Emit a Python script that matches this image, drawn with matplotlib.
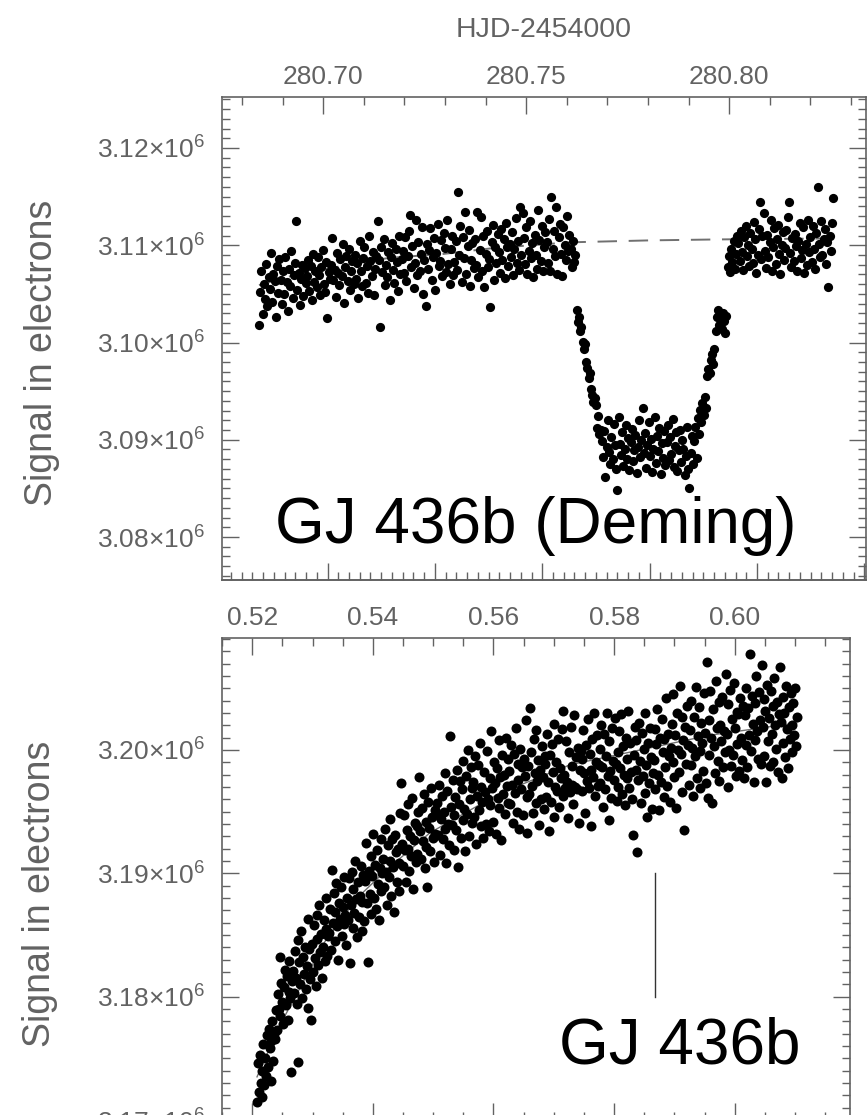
import numpy as np
import matplotlib
matplotlib.use('Agg')
import matplotlib.pyplot as plt
from matplotlib.ticker import FixedLocator, MultipleLocator, NullFormatter

plt.rcParams['font.family'] = ['Liberation Sans', 'DejaVu Sans']
plt.rcParams['mathtext.fontset'] = 'custom'
plt.rcParams['mathtext.rm'] = 'Liberation Sans'
plt.rcParams['mathtext.it'] = 'Liberation Sans:italic'

GREY = '#626262'

# ---------------- top panel : transit (Deming), signal in kilo-electrons, regular cadence
top_hjd_range = (280.6842, 280.8256)
top_signal_k = [
    3101.8, 3105.2, 3107.4, 3102.9, 3106.0, 3104.5, 3108.1, 3103.8, 3106.7, 3105.5, 3109.2, 3104.2, 3107.0, 3106.3, 3102.6, 3107.9, 3105.1, 3108.6, 3106.4, 3104.0,
    3107.3, 3105.0, 3108.8, 3106.2, 3103.2, 3107.6, 3105.8, 3109.4, 3104.6, 3106.9, 3108.2, 3112.5, 3105.4, 3107.1, 3103.9, 3106.5, 3108.0, 3104.8, 3107.7, 3106.1,
    3106.8, 3108.5, 3105.3, 3107.9, 3104.4, 3109.1, 3106.2, 3107.4, 3105.7, 3108.8, 3106.9, 3104.9, 3107.8, 3109.5, 3106.0, 3105.2, 3108.3, 3102.5, 3107.2, 3106.5,
    3108.0, 3110.7, 3106.4, 3107.5, 3104.7, 3109.2, 3107.1, 3105.9, 3108.6, 3106.8, 3110.1, 3104.1, 3107.8, 3108.9, 3106.3, 3109.6, 3105.4, 3107.3, 3108.4, 3106.0,
    3109.0, 3106.5, 3108.2, 3104.6, 3110.4, 3107.3, 3105.8, 3108.7, 3109.8, 3106.1, 3107.9, 3105.1, 3110.9, 3108.4, 3106.8, 3109.3, 3104.9, 3107.6, 3108.9, 3112.5,
    3108.5, 3101.6, 3109.8, 3107.2, 3110.6, 3105.9, 3108.0, 3106.7, 3109.3, 3104.4, 3108.8, 3110.2, 3107.5, 3106.1, 3109.6, 3108.3, 3105.3, 3110.9, 3107.0, 3108.6,
    3109.4, 3107.1, 3110.8, 3106.3, 3108.9, 3111.5, 3113.1, 3107.8, 3109.9, 3105.6, 3108.2, 3112.6, 3106.9, 3110.3, 3107.4, 3109.1, 3111.9, 3105.0, 3108.5, 3103.8,
    3110.1, 3107.6, 3109.5, 3111.8, 3106.4, 3108.8, 3110.7, 3105.4, 3109.2, 3112.2, 3107.9, 3108.4, 3110.5, 3106.8, 3111.3, 3109.7, 3107.2, 3112.6, 3108.1, 3106.0,
    3109.6, 3111.0, 3106.9, 3108.3, 3110.4, 3107.5, 3115.5, 3109.0, 3112.0, 3106.2, 3110.8, 3108.7, 3113.4, 3107.0, 3109.9, 3111.6, 3105.8, 3108.5, 3110.2, 3107.7,
    3110.6, 3108.0, 3113.4, 3106.7, 3109.5, 3112.9, 3107.3, 3110.9, 3105.7, 3109.1, 3111.5, 3107.8, 3108.6, 3103.6, 3110.3, 3112.1, 3106.4, 3109.8, 3108.2, 3111.2,
    3109.3, 3107.1, 3111.7, 3108.5, 3110.6, 3106.6, 3112.3, 3109.8, 3107.9, 3110.1, 3108.8, 3111.4, 3106.9, 3109.6, 3112.8, 3108.2, 3110.4, 3107.5, 3113.9, 3109.0,
    3113.3, 3110.7, 3108.1, 3111.9, 3107.0, 3109.4, 3112.5, 3108.7, 3110.2, 3106.7, 3111.1, 3109.0, 3107.6, 3113.6, 3110.5, 3108.4, 3112.0, 3107.3, 3109.8, 3111.4,
    3110.3, 3108.2, 3112.7, 3107.4, 3115.0, 3109.6, 3111.5, 3108.9, 3113.9, 3107.0, 3110.8, 3112.2, 3109.1, 3106.8, 3111.9, 3110.0, 3108.5, 3113.0, 3109.4, 3111.1,
    3109.6, 3107.8, 3110.4, 3108.3, 3109.0, 3103.3, 3102.1, 3102.6, 3101.2, 3101.6, 3100.1, 3099.3, 3099.8, 3098.0, 3097.4, 3096.3, 3096.9, 3095.2, 3094.6, 3093.9,
    3094.3, 3093.6, 3091.2, 3092.4, 3090.6, 3091.0, 3089.9, 3088.2, 3090.9, 3086.2, 3089.3, 3092.0, 3088.7, 3087.5, 3090.3, 3088.0, 3091.6, 3089.5, 3087.0, 3084.8,
    3092.3, 3089.6, 3088.4, 3090.8, 3087.3, 3089.1, 3091.5, 3088.0, 3090.2, 3086.9, 3089.8, 3091.1, 3087.8, 3088.9, 3090.5, 3086.6, 3089.3, 3092.0, 3088.2, 3090.0,
    3093.3, 3088.6, 3090.7, 3087.1, 3089.5, 3091.8, 3088.3, 3090.1, 3086.7, 3089.0, 3092.3, 3087.6, 3090.4, 3088.8, 3091.2, 3086.5, 3089.7, 3088.1, 3090.9, 3087.4,
    3089.8, 3091.5, 3087.9, 3090.3, 3088.5, 3092.1, 3087.2, 3089.4, 3090.8, 3086.8, 3088.9, 3091.0, 3087.7, 3090.0, 3089.1, 3086.4, 3088.3, 3091.3, 3087.0, 3085.0,
    3088.6, 3090.4, 3087.5, 3089.9, 3091.3, 3088.1, 3092.2, 3090.6, 3093.1, 3091.8, 3093.8, 3092.5, 3094.4, 3093.3, 3096.6, 3097.3, 3096.9, 3098.2, 3098.8, 3097.8,
    3099.3, 3101.2, 3102.6, 3103.3, 3101.8, 3102.9, 3101.4, 3103.0, 3102.2, 3101.0, 3102.7, 3107.8, 3108.9, 3107.2, 3109.6, 3108.3, 3110.4, 3107.6, 3109.1, 3111.0,
    3110.2, 3108.4, 3111.5, 3109.3, 3107.5, 3110.8, 3112.0, 3108.9, 3110.0, 3107.9, 3111.3, 3109.6, 3108.2, 3112.4, 3110.6, 3107.1, 3109.0, 3111.7, 3114.4, 3108.6,
    3110.9, 3113.3, 3109.4, 3107.7, 3111.1, 3108.8, 3110.3, 3112.6, 3107.3, 3109.8, 3111.8, 3108.1, 3110.6, 3112.1, 3109.1, 3107.0, 3110.0, 3111.4, 3108.5, 3109.7,
    3111.6, 3112.9, 3114.4, 3109.2, 3107.8, 3110.7, 3108.4, 3111.2, 3109.9, 3107.4, 3110.4, 3112.3, 3108.7, 3109.5, 3111.9, 3107.1, 3110.1, 3108.0, 3112.6, 3109.3,
    3110.8, 3108.3, 3112.0, 3109.6, 3107.6, 3111.3, 3116.0, 3110.1, 3108.8, 3112.5, 3109.0, 3110.6, 3111.7, 3108.1, 3110.3, 3105.7, 3111.0, 3109.4, 3112.3, 3114.9,
]
top_model_hjd = [280.6842, 280.6918, 280.6997, 280.7162, 280.7295, 280.7418, 280.7608, 280.7805, 280.7978, 280.8256]
top_model_k = [3105.9, 3106.8, 3107.5, 3108.7, 3109.1, 3109.7, 3110.3, 3110.5, 3110.6, 3110.7]
top_xlim = (280.6751, 280.8337)
top_ylim = (3.07558e6, 3.12524e6)
hjd_ticks = [280.70, 280.75, 280.80]
hjd_labels = ['280.70', '280.75', '280.80']
top_yticks = [3.08e6, 3.09e6, 3.10e6, 3.11e6, 3.12e6]

# orbital phase of GJ 436b (lower axis of the top panel)
period = 2.6439
t_transit = 280.7804

# ---------------- bottom panel : secondary eclipse window, signal in kilo-electrons
bot_phase_range = (0.5208, 0.6103)
bot_signal_k = [
    3171.5, 3174.6, 3172.3, 3175.3, 3173.0, 3171.9, 3174.0, 3176.2, 3172.8, 3175.0, 3173.6, 3176.9, 3174.3, 3177.4, 3175.8, 3173.2, 3176.4, 3178.0, 3174.8, 3177.0,
    3176.6, 3178.9, 3177.3, 3180.2, 3179.0, 3183.2, 3178.4, 3181.1, 3179.6, 3177.8, 3180.8, 3182.2, 3179.3, 3181.7, 3178.1, 3180.4, 3182.9, 3179.9, 3173.9, 3181.3,
    3182.1, 3180.3, 3183.7, 3181.5, 3179.4, 3184.6, 3174.7, 3182.8, 3181.0, 3185.3, 3179.9, 3183.2, 3181.8, 3184.0, 3180.6, 3182.5, 3186.3, 3179.1, 3183.9, 3181.4,
    3178.1, 3184.3, 3182.0, 3185.8, 3183.1, 3180.9, 3186.6, 3184.7, 3182.6, 3187.4, 3183.6, 3185.1, 3181.5, 3184.0, 3186.2, 3182.9, 3185.5, 3188.0, 3183.3, 3184.9,
    3185.2, 3187.1, 3183.8, 3190.3, 3186.0, 3188.4, 3184.5, 3186.9, 3189.2, 3185.7, 3183.0, 3187.6, 3186.3, 3188.9, 3184.9, 3187.3, 3185.9, 3189.7, 3186.6, 3184.2,
    3188.0, 3186.2, 3189.6, 3182.7, 3187.4, 3190.1, 3185.6, 3188.7, 3186.8, 3191.0, 3187.9, 3184.8, 3189.3, 3186.5, 3188.2, 3190.6, 3185.3, 3187.7, 3189.9, 3186.1,
    3189.4, 3192.5, 3187.6, 3182.8, 3190.2, 3188.3, 3191.4, 3186.7, 3189.8, 3193.2, 3188.0, 3190.7, 3187.1, 3191.9, 3189.1, 3186.2, 3190.4, 3192.8, 3188.6, 3190.0,
    3191.2, 3188.9, 3193.6, 3190.1, 3187.4, 3192.3, 3189.7, 3194.4, 3191.0, 3188.2, 3192.8, 3190.5, 3186.9, 3193.1, 3191.7, 3189.3, 3192.0, 3190.8, 3188.6, 3194.9,
    3197.3, 3192.4, 3190.6, 3194.7, 3191.9, 3189.3, 3193.5, 3192.0, 3195.6, 3190.2, 3193.0, 3191.4, 3196.1, 3188.7, 3192.7, 3194.1, 3190.9, 3193.8, 3191.6, 3195.0,
    3197.8, 3193.4, 3191.2, 3195.3, 3192.6, 3196.4, 3190.4, 3194.2, 3192.1, 3188.9, 3195.8, 3193.7, 3191.8, 3196.9, 3194.6, 3192.9, 3190.9, 3195.1, 3193.2, 3194.8,
    3195.7, 3193.1, 3197.2, 3191.5, 3194.4, 3196.3, 3192.8, 3195.0, 3198.1, 3193.6, 3190.8, 3196.7, 3194.0, 3192.3, 3201.1, 3195.4, 3193.9, 3197.6, 3191.9, 3194.7,
    3196.2, 3193.5, 3198.4, 3190.5, 3195.6, 3197.5, 3192.9, 3196.8, 3194.3, 3199.1, 3195.2, 3191.8, 3197.9, 3194.8, 3200.0, 3193.0, 3196.0, 3198.6, 3194.1, 3196.9,
    3197.4, 3194.6, 3199.5, 3192.4, 3196.3, 3198.8, 3195.1, 3200.6, 3193.8, 3197.0, 3195.8, 3192.9, 3198.2, 3196.6, 3194.0, 3199.9, 3196.0, 3193.4, 3197.7, 3195.5,
    3201.5, 3196.9, 3194.2, 3199.0, 3197.3, 3193.2, 3198.5, 3196.1, 3200.8, 3195.3, 3197.8, 3192.7, 3199.6, 3196.4, 3198.0, 3194.8, 3201.0, 3197.1, 3195.7, 3199.3,
    3198.3, 3195.6, 3200.4, 3197.2, 3194.1, 3199.7, 3196.5, 3201.8, 3195.0, 3198.9, 3197.6, 3193.6, 3200.1, 3196.8, 3198.6, 3194.7, 3199.3, 3197.9, 3202.4, 3196.2,
    3193.3, 3198.7, 3196.4, 3203.4, 3199.8, 3197.1, 3194.9, 3200.9, 3198.1, 3195.7, 3201.6, 3197.5, 3199.2, 3193.9, 3198.4, 3196.0, 3200.3, 3197.8, 3195.2, 3199.5,
    3198.9, 3196.2, 3201.3, 3197.4, 3193.4, 3199.6, 3195.8, 3200.5, 3198.2, 3194.6, 3202.1, 3197.0, 3199.0, 3196.7, 3200.9, 3195.4, 3198.5, 3197.7, 3201.7, 3196.3,
    3203.2, 3198.0, 3196.9, 3200.7, 3197.4, 3194.5, 3199.8, 3196.6, 3201.9, 3197.2, 3198.7, 3195.6, 3202.8, 3197.0, 3199.4, 3196.8, 3200.2, 3194.1, 3198.4, 3199.9,
    3199.3, 3196.7, 3201.6, 3198.1, 3194.9, 3200.4, 3197.5, 3202.5, 3196.9, 3199.7, 3198.4, 3193.8, 3200.9, 3197.8, 3203.0, 3196.3, 3199.0, 3201.2, 3197.1, 3198.8,
    3200.1, 3197.3, 3202.0, 3198.6, 3195.4, 3201.3, 3196.8, 3199.5, 3203.0, 3197.9, 3194.3, 3200.7, 3198.3, 3196.1, 3201.8, 3199.1, 3197.6, 3202.6, 3198.9, 3195.9,
    3199.8, 3197.0, 3201.5, 3198.5, 3202.9, 3196.4, 3200.3, 3198.0, 3195.5, 3201.0, 3197.7, 3199.3, 3203.2, 3196.9, 3200.6, 3198.2, 3196.0, 3193.1, 3199.6, 3201.9,
    3198.4, 3200.8, 3191.7, 3197.6, 3202.2, 3199.1, 3195.7, 3201.4, 3197.9, 3200.1, 3196.5, 3203.0, 3198.8, 3194.6, 3200.6, 3197.3, 3201.8, 3199.4, 3195.2, 3198.1,
    3199.2, 3201.7, 3196.8, 3200.5, 3203.3, 3198.0, 3195.1, 3201.0, 3197.4, 3202.5, 3199.8, 3196.2, 3200.9, 3198.6, 3204.2, 3197.1, 3201.3, 3199.5, 3195.8, 3200.2,
    3202.1, 3199.0, 3204.5, 3197.8, 3201.2, 3195.3, 3203.0, 3200.0, 3198.2, 3205.2, 3199.7, 3202.7, 3196.6, 3200.8, 3193.5, 3201.9, 3198.9, 3203.6, 3200.4, 3197.2,
    3201.6, 3198.8, 3204.0, 3200.2, 3196.3, 3202.7, 3199.5, 3205.1, 3197.7, 3201.1, 3203.5, 3199.9, 3196.9, 3202.2, 3200.6, 3198.3, 3204.6, 3201.4, 3197.3, 3207.1,
    3196.1, 3202.4, 3199.6, 3204.8, 3201.0, 3195.7, 3203.3, 3200.3, 3198.1, 3205.6, 3201.8, 3199.1, 3203.9, 3197.5, 3202.0, 3200.7, 3204.3, 3198.6, 3201.5, 3199.8,
    3206.2, 3201.3, 3197.0, 3203.7, 3200.0, 3204.9, 3198.7, 3202.5, 3199.6, 3205.4, 3201.8, 3197.9, 3203.1, 3200.5, 3202.9, 3198.3, 3204.2, 3201.0, 3199.2, 3203.6,
    3197.7, 3202.8, 3200.4, 3205.0, 3198.6, 3203.4, 3201.2, 3207.8, 3199.9, 3204.4, 3202.1, 3197.4, 3203.8, 3200.8, 3206.0, 3201.5, 3199.3, 3204.7, 3202.4, 3198.9,
    3206.9, 3201.9, 3204.1, 3199.5, 3203.2, 3197.4, 3205.3, 3200.7, 3202.6, 3198.7, 3204.8, 3201.3, 3203.6, 3199.0, 3205.8, 3202.0, 3200.1, 3203.9, 3198.2, 3202.9,
    3206.7, 3202.3, 3197.7, 3204.3, 3200.6, 3203.0, 3199.4, 3205.2, 3201.7, 3198.5, 3203.5, 3200.9, 3204.6, 3202.0, 3199.8, 3203.8, 3201.2, 3205.0, 3200.3, 3202.7,
]
bot_model_phase = [0.5208, 0.5246, 0.5321, 0.5374, 0.5423, 0.5495, 0.5611, 0.5727, 0.5843, 0.5959, 0.6103]
bot_model_k = [3173.5, 3177.7, 3184.5, 3188.0, 3190.3, 3193.3, 3196.5, 3198.8, 3200.0, 3201.2, 3202.2]
bot_xlim = (0.5150, 0.6191)
bot_ylim = (3.1700e6, 3.20908e6)
phase_ticks = [0.52, 0.54, 0.56, 0.58, 0.60]
phase_labels = ['0.52', '0.54', '0.56', '0.58', '0.60']
bot_yticks = [3.17e6, 3.18e6, 3.19e6, 3.20e6]
eclipse_phase = 0.5867
eclipse_mark = (3.18e6, 3.19e6)


def sci_label(v):
    return r'$%.2f{\times}10^{6}$' % (v / 1e6)


def style(ax):
    for sp in ax.spines.values():
        sp.set_color(GREY)
        sp.set_linewidth(1.2)
    ax.tick_params(which='both', direction='in', color=GREY, labelcolor=GREY,
                   labelsize=19, width=1)
    ax.tick_params(which='major', length=12)
    ax.tick_params(which='minor', length=6)
    ax.tick_params(axis='y', which='both', left=True, right=True, pad=12)


fig = plt.figure(figsize=(8.67, 11.15), dpi=100)

# ---- top panel
ax1 = fig.add_axes([0.2561, 0.4798, 0.7428, 0.4332])
style(ax1)
t1 = np.linspace(top_hjd_range[0], top_hjd_range[1], len(top_signal_k))
ax1.plot(top_model_hjd, np.array(top_model_k) * 1e3, color='#707070', lw=1.4,
         dashes=(10, 6), zorder=1)
ax1.scatter(t1, np.array(top_signal_k) * 1e3, s=44, color='black', lw=0, zorder=2)
ax1.set_xlim(*top_xlim)
ax1.set_ylim(*top_ylim)
ax1.xaxis.tick_top()
ax1.xaxis.set_label_position('top')
ax1.xaxis.set_major_locator(FixedLocator(hjd_ticks))
ax1.set_xticklabels(hjd_labels)
ax1.xaxis.set_minor_locator(MultipleLocator(0.01))
ax1.tick_params(axis='x', which='both', top=True, bottom=False, pad=6)
ax1.set_xlabel('HJD-2454000', color=GREY, fontsize=20.5, labelpad=20)
ax1.yaxis.set_major_locator(FixedLocator(top_yticks))
ax1.set_yticklabels([sci_label(v) for v in top_yticks])
ax1.yaxis.set_minor_locator(MultipleLocator(1e3))
ax1.set_ylabel('Signal in electrons', color=GREY, fontsize=27)
ax1.yaxis.set_label_coords(-0.252, 0.47)

sec = ax1.secondary_xaxis('bottom', functions=(lambda t: (t - t_transit) / period,
                                                lambda p: p * period + t_transit))
sec.xaxis.set_major_locator(MultipleLocator(0.01))
sec.xaxis.set_minor_locator(MultipleLocator(0.001))
sec.xaxis.set_major_formatter(NullFormatter())
sec.tick_params(which='both', direction='in', color=GREY, width=1)
sec.tick_params(which='major', length=12)
sec.tick_params(which='minor', length=6)
sec.spines['bottom'].set_color(GREY)
sec.spines['bottom'].set_linewidth(1.2)

ax1.text(0.4876, 0.0766, 'GJ 436b (Deming)', transform=ax1.transAxes,
         fontsize=46, color='black', ha='center', va='baseline')

# ---- bottom panel
ax2 = fig.add_axes([0.2561, -0.0045, 0.7243, 0.4323])
style(ax2)
p2 = np.linspace(bot_phase_range[0], bot_phase_range[1], len(bot_signal_k))
ax2.plot(bot_model_phase, np.array(bot_model_k) * 1e3, color='#707070', lw=1.0, zorder=1)
ax2.scatter(p2, np.array(bot_signal_k) * 1e3, s=52, color='black', lw=0, zorder=2)
ax2.plot([eclipse_phase, eclipse_phase], eclipse_mark, color='#333333', lw=1.0)
ax2.set_xlim(*bot_xlim)
ax2.set_ylim(*bot_ylim)
ax2.xaxis.set_major_locator(FixedLocator(phase_ticks))
ax2.set_xticklabels(phase_labels)
ax2.xaxis.set_minor_locator(MultipleLocator(0.005))
ax2.tick_params(axis='x', which='both', top=True, bottom=True,
                labeltop=True, labelbottom=False, pad=6)
ax2.yaxis.set_major_locator(FixedLocator(bot_yticks))
ax2.set_yticklabels([sci_label(v) for v in bot_yticks])
ax2.yaxis.set_minor_locator(MultipleLocator(1e3))
ax2.set_ylabel('Signal in electrons', color=GREY, fontsize=27)
ax2.yaxis.set_label_coords(-0.261, 0.47)
ax2.text(0.9204, 0.118, 'GJ 436b', transform=ax2.transAxes,
         fontsize=46, color='black', ha='right', va='baseline')

fig.savefig('out.png', dpi=100)
